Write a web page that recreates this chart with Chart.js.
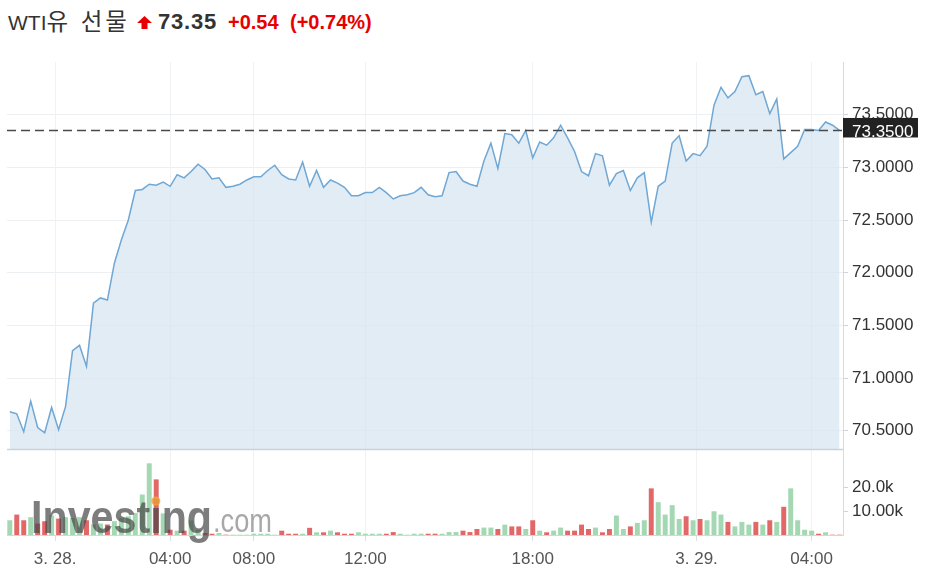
<!DOCTYPE html>
<html lang="ko">
<head>
<meta charset="utf-8">
<title>WTI유 선물</title>
<script src="https://cdn.jsdelivr.net/npm/chart.js@4.4.1/dist/chart.umd.min.js"></script>
<style>
    html, body { margin: 0; padding: 0; background: #fff; }
    body { width: 929px; height: 581px; overflow: hidden; position: relative;
           font-family: "Liberation Sans", Arial, "Noto Sans CJK KR", sans-serif; }
    #wrap { position: absolute; left: 0; top: 0; width: 929px; height: 581px; }
    .hd { position: absolute; top: 8px; font-size: 21px; line-height: 28px; white-space: nowrap; }
    #name { left: 8px; color: #333; }
    #name .ko { font-size: 23.5px; letter-spacing: 3px; }
    #arrow { left: 137px; top: 16px; }
    #last { left: 158px; color: #333; font-weight: bold; font-size: 22px; letter-spacing: 0.8px; }
    #chg { left: 228px; color: #e80000; font-weight: bold; font-size: 20px; }
    #pct { left: 290px; color: #e80000; font-weight: bold; font-size: 20px; }
</style>
</head>
<body>
<div class="hd" id="name">WTI<span class="ko">유 선물</span></div>
<svg class="hd" id="arrow" width="15" height="13" viewBox="0 0 15 13">
    <path d="M7.5 0 L15 7 L10.5 7 L10.5 13 L4.5 13 L4.5 7 L0 7 Z" fill="#e80000"/>
</svg>
<div class="hd" id="last">73.35</div>
<div class="hd" id="chg">+0.54</div>
<div class="hd" id="pct">(+0.74%)</div>
<div id="wrap"><canvas id="chart" width="929" height="581"></canvas></div>

<script>
// WTI futures, 15 min bars, 3/27 22:30 -> 3/29 05:15

// Close price per bar
const priceValues = [
    70.68, 70.66, 70.49, 70.78, 70.53, 70.48, 70.72, 70.51, 70.73, 71.26,
    71.31, 71.11, 71.71, 71.76, 71.74, 72.09, 72.31, 72.50, 72.78, 72.79,
    72.84, 72.83, 72.86, 72.82, 72.93, 72.90, 72.96, 73.03, 72.98, 72.89,
    72.90, 72.81, 72.82, 72.84, 72.88, 72.91, 72.91, 72.97, 73.02, 72.93,
    72.89, 72.88, 73.05, 72.82, 72.97, 72.81, 72.88, 72.85, 72.81, 72.73,
    72.73, 72.76, 72.76, 72.81, 72.76, 72.70, 72.73, 72.74, 72.76, 72.81,
    72.74, 72.72, 72.73, 72.95, 72.96, 72.87, 72.84, 72.82, 73.06, 73.23,
    72.99, 73.32, 73.31, 73.23, 73.35, 73.09, 73.24, 73.21, 73.28, 73.40,
    73.28, 73.15, 72.96, 72.92, 73.13, 73.11, 72.83, 72.94, 72.97, 72.78,
    72.90, 72.95, 72.48, 72.82, 72.87, 73.23, 73.30, 73.06, 73.13, 73.11,
    73.20, 73.59, 73.76, 73.66, 73.72, 73.86, 73.87, 73.69, 73.72, 73.51,
    73.65, 73.08, 73.14, 73.20, 73.36, 73.36, 73.35, 73.43, 73.40, 73.35
];

// Volume per bar
const volumeValues = [
    6100, 8500, 6100, 7400, 4700, 5700, 8200, 6800, 7400, 7100,
    7400, 6100, 4300, 4700, 4300, 5700, 7100, 7800, 9200, 17000,
    30200, 23400, 9000, 2100, 1700, 1700, 6000, 2100, 700, 400,
    700, 0, 0, 0, 0, 400, 400, 400, 0, 1700,
    400, 400, 400, 2900, 1000, 1000, 1700, 1000, 400, 400,
    1000, 400, 400, 400, 400, 1100, 400, 0, 400, 400,
    400, 400, 400, 1100, 1100, 1700, 1100, 2400, 3000, 3000,
    2400, 4250, 3500, 3500, 2400, 6100, 1700, 1000, 1700, 3000,
    1700, 1700, 4250, 2400, 3000, 1000, 2400, 8100, 2400, 3500,
    5000, 6100, 19600, 13750, 8500, 12500, 6650, 7800, 6100, 6650,
    6100, 9900, 8500, 5400, 3500, 5400, 4250, 5400, 4250, 6100,
    5400, 11800, 19600, 6100, 2100, 1700, 400, 1000, 0, 0
];

// Time axis labels (bar index where they sit)
const timeTickPos = [6.5, 23, 35, 51, 75, 98.5, 115];
const timeTickLabels = ['3. 28.', '04:00', '08:00', '12:00', '18:00', '3. 29.', '04:00'];

const priceTicks = [70.5, 71, 71.5, 72, 72.5, 73, 73.5];
const volumeTicks = [10000, 20000];
const volumeTickLabels = ['10.00k', '20.0k'];
const lastPrice = 73.35;

const colors = {
    line: '#6fa7d5',
    fill: 'rgba(214, 228, 241, 0.7)',
    up: '#a3d8b2',
    down: '#e26868'
};

document.addEventListener('DOMContentLoaded', () => {
    Chart.defaults.font.family = '"Liberation Sans", Arial, sans-serif';
    Chart.defaults.font.size = 17;

    const priceData = priceValues.map((v, i) => ({ x: i, y: v }));
    const volumeData = volumeValues.map((v, i) => ({ x: i, y: v }));
    // bar colour follows the close vs previous close
    const barColors = volumeValues.map((v, i) =>
        (i === 0 || priceValues[i] >= priceValues[i - 1]) ? colors.up : colors.down);

    // Separator, watermark, last price line + tag
    const overlay = {
        id: 'overlay',
        afterDatasetsDraw(chart) {
            const { ctx, chartArea } = chart;
            const yP = chart.scales.y;
            ctx.save();

            ctx.strokeStyle = '#cdd1d6';
            ctx.lineWidth = 1.5;
            ctx.beginPath();
            ctx.moveTo(chartArea.left, yP.bottom + 0.5);
            ctx.lineTo(chartArea.right, yP.bottom + 0.5);
            ctx.stroke();

            // Investing.com watermark
            const wx = 31, wy = 533;
            ctx.font = 'bold 46px "Liberation Sans", Arial, sans-serif';
            const full = ctx.measureText('Investing').width;
            const sx = 181 / full;
            ctx.save();
            ctx.translate(wx, wy);
            ctx.scale(sx, 1);
            ctx.fillStyle = 'rgba(70, 70, 70, 0.7)';
            ctx.fillText('Investing', 0, 0);
            const dotX = ctx.measureText('Invest').width + ctx.measureText('i').width / 2;
            ctx.restore();
            ctx.fillStyle = 'rgba(247, 160, 60, 0.85)';
            ctx.beginPath();
            ctx.arc(wx + dotX * sx, wy - 32, 4.5, 0, Math.PI * 2);
            ctx.fill();

            ctx.font = '34px "Liberation Sans", Arial, sans-serif';
            const comW = ctx.measureText('.com').width;
            ctx.save();
            ctx.translate(wx + 182, wy - 1);
            ctx.scale(59 / comW, 1);
            ctx.fillStyle = 'rgba(110, 110, 110, 0.6)';
            ctx.fillText('.com', 0, 0);
            ctx.restore();

            ctx.restore();
        },
        afterDraw(chart) {
            const { ctx, chartArea } = chart;
            const y = chart.scales.y.getPixelForValue(lastPrice);
            ctx.save();
            ctx.strokeStyle = '#4a4a4a';
            ctx.lineWidth = 1.5;
            ctx.setLineDash([9, 5]);
            ctx.beginPath();
            ctx.moveTo(chartArea.left, y);
            ctx.lineTo(chartArea.right, y);
            ctx.stroke();
            ctx.setLineDash([]);

            ctx.fillStyle = '#222';
            ctx.fillRect(chartArea.right, y - 12.5, 75, 19.5);
            ctx.fillStyle = '#fff';
            ctx.font = '17px "Liberation Sans", Arial, sans-serif';
            ctx.textBaseline = 'alphabetic';
            ctx.fillText(lastPrice.toFixed(4), chartArea.right + 9, y + 6.5);
            ctx.restore();
        }
    };

    new Chart(document.getElementById('chart'), {
        type: 'line',
        data: {
            datasets: [
                {
                    type: 'line',
                    label: 'WTI',
                    data: priceData,
                    yAxisID: 'y',
                    borderColor: colors.line,
                    backgroundColor: colors.fill,
                    borderWidth: 1.5,
                    pointRadius: 0,
                    tension: 0,
                    fill: 'start'
                },
                {
                    type: 'bar',
                    label: 'Volume',
                    data: volumeData,
                    yAxisID: 'vol',
                    backgroundColor: barColors,
                    barThickness: 4.3
                }
            ]
        },
        options: {
            responsive: false,
            animation: false,
            events: [],
            layout: { padding: { top: 62, left: 7, right: 0, bottom: 0 } },
            plugins: {
                legend: { display: false },
                tooltip: { enabled: false }
            },
            scales: {
                y: {
                    position: 'right',
                    stack: 'main',
                    stackWeight: 387,
                    min: 70.326,
                    max: 74.0,
                    afterBuildTicks: (scale) => {
                        scale.ticks = priceTicks.map(v => ({ value: v }));
                    },
                    afterFit: (scale) => { scale.width = 86; },
                    ticks: {
                        color: '#333',
                        padding: 4,
                        callback: (v) => Number(v).toFixed(4)
                    },
                    grid: { color: '#edf0f3', tickColor: '#cfd4da', tickLength: 5 },
                    border: { color: '#d6dbe1' }
                },
                vol: {
                    position: 'right',
                    stack: 'main',
                    stackWeight: 86,
                    min: 0,
                    max: 36400,
                    afterBuildTicks: (scale) => {
                        scale.ticks = volumeTicks.map(v => ({ value: v }));
                    },
                    afterFit: (scale) => { scale.width = 86; },
                    ticks: {
                        color: '#333',
                        padding: 4,
                        callback: (v) => volumeTickLabels[volumeTicks.indexOf(v)]
                    },
                    grid: { drawOnChartArea: false, tickColor: '#cfd4da', tickLength: 5 },
                    border: { color: '#d6dbe1' }
                },
                x: {
                    type: 'linear',
                    offset: false,
                    min: -0.4,
                    max: 119.5,
                    afterBuildTicks: (scale) => {
                        scale.ticks = timeTickPos.map(v => ({ value: v }));
                    },
                    afterFit: (scale) => { scale.height = 46; },
                    ticks: {
                        color: '#555',
                        padding: 8,
                        maxRotation: 0,
                        autoSkip: false,
                        callback: (v) => timeTickLabels[timeTickPos.indexOf(v)]
                    },
                    grid: { offset: false, color: '#f0f2f4', tickColor: '#dcdfe3', tickLength: 6 },
                    border: { color: '#d3d6da' }
                }
            }
        },
        plugins: [overlay]
    });
});
</script>
</body>
</html>
